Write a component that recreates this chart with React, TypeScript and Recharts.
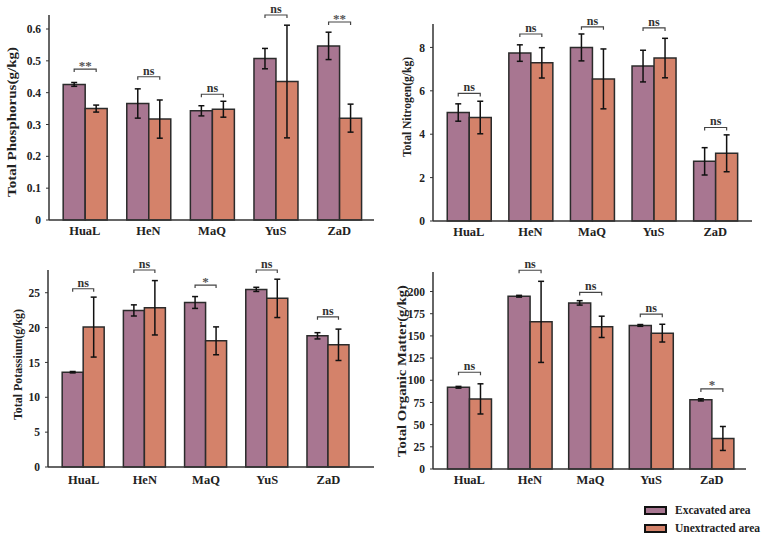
import { BarChart, Bar, XAxis, YAxis, ErrorBar, LabelList } from 'recharts';

const sites = ['HuaL', 'HeN', 'MaQ', 'YuS', 'ZaD'];

// Total phosphorus (g/kg)
const excP = [0.426, 0.366, 0.343, 0.507, 0.547];
const excPErr = [0.006, 0.046, 0.016, 0.032, 0.043];
const unxP = [0.35, 0.317, 0.348, 0.435, 0.32];
const unxPErr = [0.011, 0.06, 0.025, 0.177, 0.044];
const sigP = ['**', 'ns', 'ns', 'ns', '**'];
const sigPAt = [0.474, 0.45, 0.395, 0.644, 0.622];

// Total nitrogen (g/kg)
const excN = [5.0, 7.74, 8.0, 7.14, 2.75];
const excNErr = [0.4, 0.38, 0.62, 0.73, 0.63];
const unxN = [4.77, 7.29, 6.55, 7.51, 3.12];
const unxNErr = [0.75, 0.7, 1.38, 0.91, 0.85];
const sigN = ['ns', 'ns', 'ns', 'ns', 'ns'];
const sigNAt = [5.88, 8.62, 8.95, 8.9, 4.31];

// Total potassium (g/kg)
const excK = [13.6, 22.46, 23.6, 25.48, 18.82];
const excKErr = [0.1, 0.8, 0.85, 0.3, 0.45];
const unxK = [20.07, 22.84, 18.1, 24.19, 17.53];
const unxKErr = [4.3, 3.9, 2.0, 2.75, 2.25];
const sigK = ['ns', 'ns', '*', 'ns', 'ns'];
const sigKAt = [25.57, 28.26, 26.1, 28.26, 21.55];

// Total organic matter (g/kg)
const excO = [92.1, 194.7, 187.2, 161.8, 77.9];
const excOErr = [1, 1, 2.5, 1, 1.2];
const unxO = [79, 165.8, 160.2, 153.1, 34.4];
const unxOErr = [17, 45.7, 12, 10, 13.5];
const sigO = ['ns', 'ns', 'ns', 'ns', '*'];
const sigOAt = [109, 224, 199, 174.5, 90.2];

const PURPLE = '#a87691';
const ORANGE = '#d4826a';
const EDGE = '#2b2b2b';
const INK = '#222';
const FONT = '"Liberation Serif", "Times New Roman", serif';

type Row = {
  site: string;
  exc: number;
  excErr: number;
  unx: number;
  unxErr: number;
  sig: string;
  sigAt: number;
};

const build = (
  exc: number[],
  excErr: number[],
  unx: number[],
  unxErr: number[],
  sig: string[],
  sigAt: number[]
): Row[] =>
  sites.map((site, i) => ({
    site,
    exc: exc[i],
    excErr: excErr[i],
    unx: unx[i],
    unxErr: unxErr[i],
    sig: sig[i],
    sigAt: sigAt[i],
  }));

// significance bracket drawn from the purple bar's geometry
const bracket = (rows: Row[]) => (p: any) => {
  const vb = p.viewBox ?? p;
  const row = rows[p.index];
  if (!row || !vb || !vb.height) return null;
  const perUnit = vb.height / row.exc;
  const base = vb.y + vb.height;
  const by = base - row.sigAt * perUnit;
  const x1 = vb.x + vb.width / 2;
  const x2 = vb.x + vb.width * 1.5;
  const star = row.sig !== 'ns';
  return (
    <g key={`br-${p.index}`}>
      <path
        d={`M${x1},${by + 3}V${by}H${x2}V${by + 3}`}
        fill="none"
        stroke="#444"
        strokeWidth={1.2}
      />
      <text
        x={(x1 + x2) / 2}
        y={star ? by + 0.5 : by - 2}
        textAnchor="middle"
        fontFamily={FONT}
        fontWeight="bold"
        fontSize={star ? 13 : 12}
        fill={star ? '#555' : '#333'}
      >
        {row.sig}
      </text>
    </g>
  );
};

type PanelProps = {
  rows: Row[];
  left: number;
  top: number;
  width: number;
  height: number;
  marginTop: number;
  marginRight: number;
  axisWidth: number;
  yMax: number;
  ticks: number[];
  fmt: (v: number) => string;
  title: string;
  titleX: number;
  titleDy: number;
  titleLen: number;
  padL: number;
  padR: number;
  gap: string;
  tickGap: number;
};

const Panel = (c: PanelProps) => (
  <div style={{ position: 'absolute', left: c.left, top: c.top }}>
    <BarChart
      width={c.width}
      height={c.height}
      data={c.rows}
      margin={{ top: c.marginTop, right: c.marginRight, left: 0, bottom: 0 }}
      barCategoryGap={c.gap}
      barGap={0}
    >
      <XAxis
        dataKey="site"
        height={25}
        padding={{ left: c.padL, right: c.padR }}
        tickLine={false}
        tickSize={0}
        tickMargin={c.tickGap}
        axisLine={{ stroke: '#333', strokeWidth: 1.5 }}
        tick={{ fill: INK, fontFamily: FONT, fontWeight: 'bold', fontSize: 12.5 }}
      />
      <YAxis
        width={c.axisWidth}
        domain={[0, c.yMax]}
        ticks={c.ticks}
        tickFormatter={c.fmt}
        tickSize={3}
        tickMargin={5}
        tickLine={{ stroke: '#333' }}
        axisLine={{ stroke: '#333', strokeWidth: 1.5 }}
        tick={{ fill: INK, fontFamily: FONT, fontWeight: 'bold', fontSize: 11.5 }}
        label={{
          content: (p: any) => {
            const vb = p.viewBox;
            const cx = vb.x + c.titleX;
            const cy = vb.y + vb.height / 2 + c.titleDy;
            return (
              <text
                x={cx}
                y={cy}
                transform={`rotate(-90, ${cx}, ${cy})`}
                textAnchor="middle"
                dominantBaseline="central"
                fontFamily={FONT}
                fontWeight="bold"
                fontSize={12}
                fill={INK}
                textLength={c.titleLen}
                lengthAdjust="spacingAndGlyphs"
              >
                {c.title}
              </text>
            );
          },
        }}
      />
      <Bar dataKey="exc" fill={PURPLE} stroke={EDGE} strokeWidth={1.5} isAnimationActive={false}>
        <ErrorBar dataKey="excErr" width={3} stroke="#111" strokeWidth={1.5} />
        <LabelList dataKey="sig" content={bracket(c.rows)} />
      </Bar>
      <Bar dataKey="unx" fill={ORANGE} stroke={EDGE} strokeWidth={1.5} isAnimationActive={false}>
        <ErrorBar dataKey="unxErr" width={3} stroke="#111" strokeWidth={1.5} />
      </Bar>
    </BarChart>
  </div>
);

const one = (v: number) => (v === 0 ? '0' : v.toFixed(1));
const whole = (v: number) => String(v);

const LegendItem = ({ color, text }: { color: string; text: string }) => (
  <div style={{ display: 'flex', alignItems: 'center', height: 18 }}>
    <div
      style={{
        width: 19,
        height: 5,
        background: color,
        border: '2px solid #111',
        marginRight: 8,
      }}
    />
    <span style={{ fontFamily: FONT, fontWeight: 'bold', fontSize: 11.5, color: INK }}>{text}</span>
  </div>
);

export default function App() {
  return (
    <div
      style={{
        position: 'absolute',
        left: 0,
        top: 0,
        width: 767,
        height: 541,
        background: '#fff',
        overflow: 'hidden',
      }}
    >
      <Panel
        rows={build(excP, excPErr, unxP, unxPErr, sigP, sigPAt)}
        left={0}
        top={0}
        width={384}
        height={245}
        marginTop={15}
        marginRight={10}
        axisWidth={49}
        yMax={0.644}
        ticks={[0, 0.1, 0.2, 0.3, 0.4, 0.5, 0.6]}
        fmt={one}
        title="Total Phosphorus(g/kg)"
        titleX={12}
        titleDy={4.5}
        titleLen={150}
        padL={4}
        padR={3}
        gap="16%"
        tickGap={6}
      />
      <Panel
        rows={build(excN, excNErr, unxN, unxNErr, sigN, sigNAt)}
        left={384}
        top={0}
        width={383}
        height={246}
        marginTop={24}
        marginRight={15}
        axisWidth={49}
        yMax={9.08}
        ticks={[0, 2, 4, 6, 8]}
        fmt={whole}
        title="Total Nitrogen(g/kg)"
        titleX={23}
        titleDy={-15.5}
        titleLen={100}
        padL={5}
        padR={6}
        gap="15%"
        tickGap={6}
      />
      <Panel
        rows={build(excK, excKErr, unxK, unxKErr, sigK, sigKAt)}
        left={0}
        top={255}
        width={384}
        height={237}
        marginTop={15}
        marginRight={10}
        axisWidth={48}
        yMax={28.26}
        ticks={[0, 5, 10, 15, 20, 25]}
        fmt={whole}
        title="Total Potassium(g/kg)"
        titleX={17.5}
        titleDy={-4}
        titleLen={111}
        padL={5}
        padR={15}
        gap="15%"
        tickGap={8}
      />
      <Panel
        rows={build(excO, excOErr, unxO, unxOErr, sigO, sigOAt)}
        left={384}
        top={255}
        width={383}
        height={239}
        marginTop={17}
        marginRight={21}
        axisWidth={49}
        yMax={222}
        ticks={[0, 25, 50, 75, 100, 125, 150, 175, 200]}
        fmt={whole}
        title="Total Organic Matter(g/kg)"
        titleX={18}
        titleDy={0.5}
        titleLen={172}
        padL={6}
        padR={4}
        gap="14%"
        tickGap={6}
      />
      <div style={{ position: 'absolute', left: 644, top: 501 }}>
        <LegendItem color={PURPLE} text="Excavated area" />
        <LegendItem color={ORANGE} text="Unextracted area" />
      </div>
    </div>
  );
}
